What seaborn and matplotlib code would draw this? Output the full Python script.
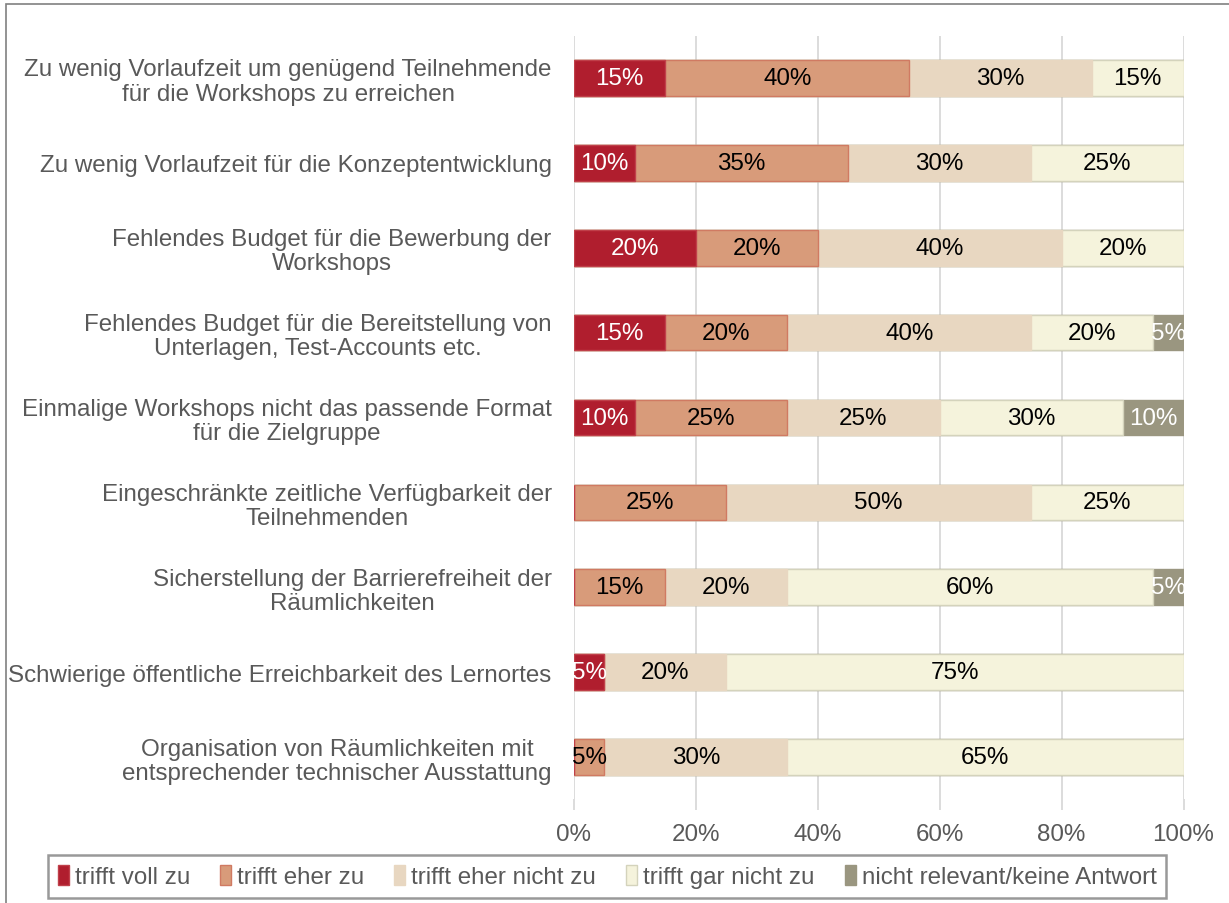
import seaborn as sns
import matplotlib.pyplot as plt
import matplotlib.ticker as ticker
from matplotlib.patches import Patch, Rectangle
import pandas as pd

# Data
categories = [
    "Zu wenig Vorlaufzeit um genügend Teilnehmende\nfür die Workshops zu erreichen",
    "Zu wenig Vorlaufzeit für die Konzeptentwicklung",
    "Fehlendes Budget für die Bewerbung der\nWorkshops",
    "Fehlendes Budget für die Bereitstellung von\nUnterlagen, Test-Accounts etc.",
    "Einmalige Workshops nicht das passende Format\nfür die Zielgruppe",
    "Eingeschränkte zeitliche Verfügbarkeit der\nTeilnehmenden",
    "Sicherstellung der Barrierefreiheit der\nRäumlichkeiten",
    "Schwierige öffentliche Erreichbarkeit des Lernortes",
    "Organisation von Räumlichkeiten mit\nentsprechender technischer Ausstattung",
]
series_names = ["trifft voll zu", "trifft eher zu", "trifft eher nicht zu",
                "trifft gar nicht zu", "nicht relevant/keine Antwort"]
voll_zu = [15, 10, 20, 15, 10, 0, 0, 5, 0]
eher_zu = [40, 35, 20, 20, 25, 25, 15, 0, 5]
eher_nicht_zu = [30, 30, 40, 40, 25, 50, 20, 20, 30]
gar_nicht_zu = [15, 25, 20, 20, 30, 25, 60, 75, 65]
nicht_relevant = [0, 0, 0, 5, 10, 0, 5, 0, 0]

colors = ["#B01E2E", "#D89B7A", "#E8D7C1", "#F5F3DC", "#9A9680"]
edge_colors = ["#C0404A", "#D07A62", "#E8D7C1", "#D4D3BC", "#9A9680"]
text_colors = ["white", "black", "black", "black", "white"]

df = pd.DataFrame({"Kategorie": categories})
values = [voll_zu, eher_zu, eher_nicht_zu, gar_nicht_zu, nicht_relevant]
for name, vals in zip(series_names, values):
    df[name] = [v / 100 for v in vals]

# cumulative sums for the overlay stacking
cum = df[series_names].cumsum(axis=1)

sns.set_theme(style="white")
plt.rcParams["font.family"] = ["Liberation Sans", "DejaVu Sans"]
FS = 17.4

fig = plt.figure(figsize=(12.29, 9.04), dpi=100)
ax = fig.add_axes([0.467, 0.1145, 0.496, 0.8451])

# draw from the full stack down to the first segment so earlier ones sit on top
for i in reversed(range(len(series_names))):
    sns.barplot(x=cum[series_names[i]], y=df["Kategorie"], orient="h",
                color=colors[i], edgecolor=edge_colors[i], linewidth=1,
                width=0.42, saturation=1, ax=ax, zorder=3)

# value labels
for i, name in enumerate(series_names):
    for j in range(len(df)):
        v = df[name][j]
        if v <= 0:
            continue
        xc = cum[name][j] - v / 2
        ax.text(xc, j, f"{v * 100:.0f}%", ha="center", va="center",
                fontsize=FS, color=text_colors[i], zorder=5)

ax.set_xlim(0, 1)
ax.set_ylim(8.5, -0.5)
ax.set_xlabel("")
ax.set_ylabel("")
ax.xaxis.set_major_locator(ticker.MultipleLocator(0.2))
ax.xaxis.set_major_formatter(ticker.FuncFormatter(lambda x, p: f"{x * 100:.0f}%"))
ax.grid(axis="x", color="#D9D9D9", linewidth=1.3, zorder=0)
ax.set_axisbelow(True)
for s in ax.spines.values():
    s.set_visible(False)
ax.tick_params(axis="x", length=8, width=1.3, color="#D9D9D9", pad=9,
               labelsize=FS, labelcolor="#595959", bottom=True)
ax.tick_params(axis="y", length=0, pad=16, labelsize=FS, labelcolor="#595959")
for lab in ax.get_yticklabels():
    lab.set_multialignment("center")
    lab.set_linespacing(1.12)

# legend
handles = [Patch(facecolor=c, edgecolor=e) for c, e in zip(colors, edge_colors)]
leg = fig.legend(handles, series_names, loc="center", ncol=5,
                 bbox_to_anchor=(0.494, 0.029), fontsize=FS, frameon=True,
                 fancybox=False, handlelength=0.45, handleheight=0.9,
                 handletextpad=0.25, columnspacing=1.25, borderpad=0.4)
leg.get_frame().set_edgecolor("#808080")
leg.get_frame().set_linewidth(1.8)
for t in leg.get_texts():
    t.set_color("#595959")

# outer chart frame
fig.patches.append(Rectangle((0.005, -0.01), 1.2, 1.005, transform=fig.transFigure,
                             fill=False, edgecolor="#808080", linewidth=1.2))

plt.savefig("out.png", dpi=100)
